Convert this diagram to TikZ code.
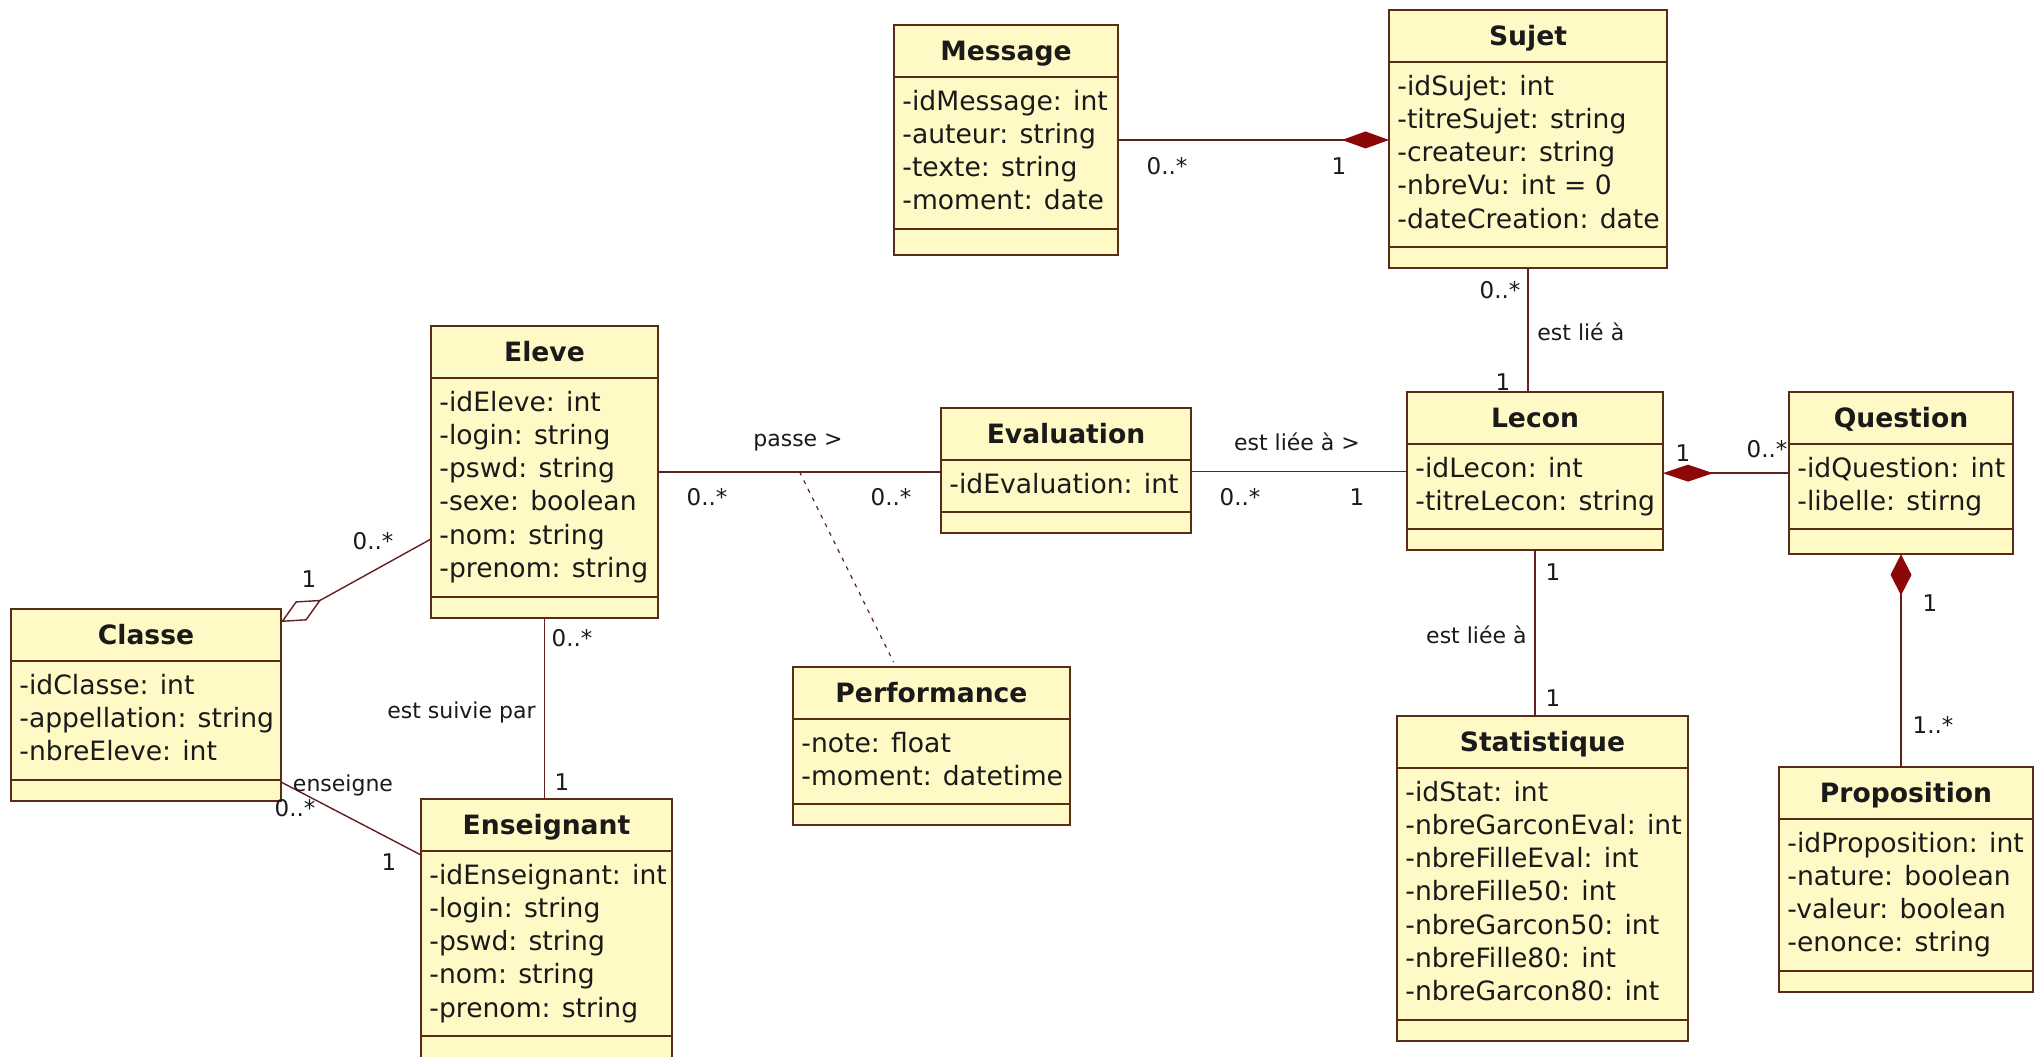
\documentclass[tikz,border=0pt]{standalone}
\usepackage{fontspec}
\setmainfont{DejaVu Sans}
\usetikzlibrary{arrows.meta,calc}

\definecolor{boxfill}{RGB}{255,249,198}
\definecolor{boxline}{RGB}{88,44,22}
\definecolor{linecol}{RGB}{100,32,32}
\definecolor{compfill}{RGB}{140,8,8}
\definecolor{textcol}{RGB}{26,26,26}

\tikzset{
  classbox/.style={draw=boxline, fill=boxfill, line width=1pt, rectangle,
    inner sep=0pt, outer sep=0pt, anchor=north west},
  sepline/.style={draw=boxline, line width=1pt},
  classtitle/.style={font=\fontsize{13.3}{15}\selectfont\bfseries, text=textcol,
    inner sep=0pt, anchor=base},
  classattr/.style={font=\fontsize{13.3}{15}\selectfont, text=textcol,
    inner sep=0pt, anchor=base west},
  assoc/.style={draw=linecol, line width=0.95pt},
  thinassoc/.style={draw=linecol, line width=0.7pt},
  anchorlink/.style={draw=linecol, line width=0.6pt, dash pattern=on 2pt off 2.8pt},
  mult/.style={font=\fontsize{11.5}{13}\selectfont, text=textcol, inner sep=0pt},
  rolename/.style={font=\fontsize{11}{13}\selectfont, text=textcol, inner sep=0pt},
  compo/.style={-{Diamond[length=#1, width=8.5pt, color=compfill, fill=compfill]}},
  compo/.default=23.5pt
}

% \umlclass{name}{left}{top}{width}{#attributes}{operations height}{title}{attributes}
% all positions in pixel units, y growing downwards
\newcommand{\umlclass}[8]{%
  \pgfmathsetmacro\attrh{(33.3*#5+18.7)/2}%
  \pgfmathsetmacro\boxh{26+\attrh+#6/2}%
  \pgfmathsetmacro\opsy{26+\attrh}%
  \node[classbox, minimum width=#4*0.5pt, minimum height=\boxh pt] (#1) at (#2,#3) {};
  \draw[sepline] ([yshift=-26pt]#1.north west) -- ([yshift=-26pt]#1.north east);
  \draw[sepline] ([yshift=-\opsy pt]#1.north west) -- ([yshift=-\opsy pt]#1.north east);
  \node[classtitle] (#1-title) at ([yshift=-17.5pt]#1.north) {#7};
  \foreach \a [count=\i] in {#8} {
    \pgfmathsetmacro\yy{42.5+(\i-1)*16.65}
    \node[classattr] (#1-a\i) at ([xshift=4pt,yshift=-\yy pt]#1.north west) {\a};
  }%
}

\begin{document}
\begin{tikzpicture}[x=0.5pt,y=-0.5pt]
\path[use as bounding box, fill=white] (0,0) rectangle (2044,1056);
\clip (0,0) rectangle (2044,1056);

% ---------- classes ----------
\umlclass{message}{894}{25}{224}{4}{26}{Message}{-idMessage: int,-auteur: string,-texte: string,-moment: date}
\umlclass{sujet}{1389}{10}{278}{5}{21}{Sujet}{-idSujet: int,-titreSujet: string,-createur: string,-nbreVu: int = 0,-dateCreation: date}
\umlclass{eleve}{431}{326}{227}{6}{21}{Eleve}{-idEleve: int,-login: string,-pswd: string,-sexe: boolean,-nom: string,-prenom: string}
\umlclass{classe}{11}{609}{270}{3}{21}{Classe}{-idClasse: int,-appellation: string,-nbreEleve: int}
\umlclass{enseignant}{421}{799}{251}{5}{40}{Enseignant}{-idEnseignant: int,-login: string,-pswd: string,-nom: string,-prenom: string}
\umlclass{evaluation}{941}{408}{250}{1}{21}{Evaluation}{-idEvaluation: int}
\umlclass{performance}{793}{667}{277}{2}{21}{Performance}{-note: float,-moment: datetime}
\umlclass{lecon}{1407}{392}{256}{2}{21}{Lecon}{-idLecon: int,-titreLecon: string}
\umlclass{question}{1789}{392}{224}{2}{25}{Question}{-idQuestion: int,-libelle: stirng}
\umlclass{statistique}{1397}{716}{291}{7}{21}{Statistique}{-idStat: int,-nbreGarconEval: int,-nbreFilleEval: int,-nbreFille50: int,-nbreGarcon50: int,-nbreFille80: int,-nbreGarcon80: int}
\umlclass{proposition}{1779}{767}{254}{4}{21}{Proposition}{-idProposition: int,-nature: boolean,-valeur: boolean,-enonce: string}

% ---------- associations ----------
% Message -- Sujet (composition)
\draw[assoc, compo] (message.east) -- (message.east -| sujet.west);
\node[mult] (m-msg) at (1167,166) {0..*};
\node[mult] (m-suj) at (1339,166) {1};

% Sujet -- Lecon
\draw[assoc] (sujet.south) -- (sujet.south |- lecon.north);
\node[mult] (m-sl1) at (1500,290) {0..*};
\node[rolename, anchor=west] (r-sl) at (1537,332) {est lié à};
\node[mult] (m-sl2) at (1503,382) {1};

% Eleve -- Evaluation, with association class Performance
\draw[assoc] (eleve.east) -- (eleve.east -| evaluation.west);
\coordinate (passe-mid) at ($(eleve.east)!0.5!(eleve.east -| evaluation.west)$);
\draw[anchorlink] (passe-mid) -- ([xshift=-19pt,yshift=2.5pt]performance.north);
\node[rolename] (r-passe) at (798,442) {passe >};
\node[mult] (m-ee1) at (707,497) {0..*};
\node[mult] (m-ee2) at (891,497) {0..*};

% Evaluation -- Lecon
\draw[assoc] ([yshift=-0.5pt]evaluation.east) -- ([yshift=-0.5pt]evaluation.east -| lecon.west);
\node[rolename] (r-el) at (1297,442) {est liée à >};
\node[mult] (m-el1) at (1240,497) {0..*};
\node[mult] (m-el2) at (1357,497) {1};

% Lecon -- Question (composition)
\draw[assoc, compo=25pt] (question.west) -- (question.west -| lecon.east);
\node[mult] (m-lq1) at (1683,453) {1};
\node[mult] (m-lq2) at (1767,449) {0..*};

% Lecon -- Statistique
\draw[assoc] (lecon.south) -- (lecon.south |- statistique.north);
\node[mult] (m-ls1) at (1553,572) {1};
\node[rolename, anchor=east] (r-ls) at (1527,635) {est liée à};
\node[mult] (m-ls2) at (1553,698) {1};

% Question -- Proposition (composition)
\draw[assoc, -{Diamond[length=20.5pt, width=10.5pt, color=compfill, fill=compfill]}]
  (question.south |- proposition.north) -- (question.south);
\node[mult] (m-qp1) at (1930,603) {1};
\node[mult] (m-qp2) at (1933,725) {1..*};

% Classe -- Eleve (aggregation)
\draw[thinassoc, -{Diamond[open, length=23pt, width=11pt, color=linecol]}]
  ([yshift=-106.5pt]eleve.north west) -- ([yshift=-6.5pt]classe.north east);
\node[mult] (m-ce1) at (373,541) {0..*};
\node[mult] (m-ce2) at (309,579) {1};

% Eleve -- Enseignant
\draw[assoc] (eleve.south) -- (eleve.south |- enseignant.north);
\node[mult] (m-en1) at (572,638) {0..*};
\node[rolename, anchor=east] (r-en) at (536,712) {est suivie par};
\node[mult] (m-en2) at (562,782) {1};

% Classe -- Enseignant
\draw[thinassoc] ([yshift=-86.5pt]classe.north east) -- ([yshift=-28pt]enseignant.north west);
\node[rolename] (r-ens) at (343,785) {enseigne};
\node[mult] (m-cn1) at (295,808) {0..*};
\node[mult] (m-cn2) at (389,862) {1};
\end{tikzpicture}
\end{document}
